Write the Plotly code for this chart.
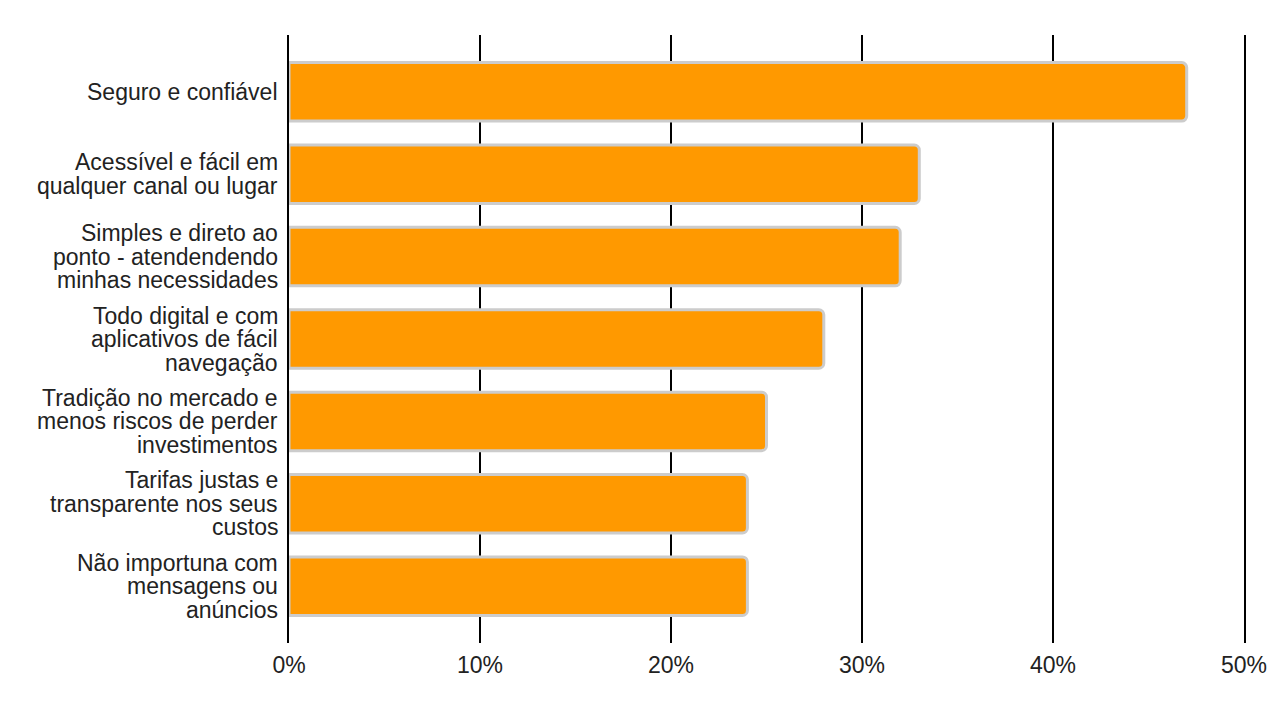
import plotly.graph_objects as go

categories = [
    "Seguro e confiável",
    "Acessível e fácil em<br>qualquer canal ou lugar",
    "Simples e direto ao<br>ponto - atendendendo<br>minhas necessidades",
    "Todo digital e com<br>aplicativos de fácil<br>navegação",
    "Tradição no mercado e<br>menos riscos de perder<br>investimentos",
    "Tarifas justas e<br>transparente nos seus<br>custos",
    "Não importuna com<br>mensagens ou<br>anúncios",
]
values = [0.47, 0.33, 0.32, 0.28, 0.25, 0.24, 0.24]
tick_vals = [0, 0.1, 0.2, 0.3, 0.4, 0.5]
tick_text = ["0%", "10%", "20%", "30%", "40%", "50%"]

FONT = "Liberation Sans, Arial, sans-serif"
FSIZE = 23
TXT = "#222222"
LINE_H = 23.5

fig = go.Figure(go.Bar(
    x=values,
    y=list(range(len(categories))),
    orientation="h",
    width=0.71,
    marker=dict(color="#FF9900", line=dict(color="#CCCCCC", width=3), cornerradius=5),
    hovertext=[c.replace("<br>", " ") for c in categories],
    hoverinfo="x+text",
))

# category labels, one annotation per line to reproduce the tight line spacing
annotations = []
for i, cat in enumerate(categories):
    lines = cat.split("<br>")
    n = len(lines)
    for j, ln in enumerate(lines):
        annotations.append(dict(
            x=0, xref="paper", y=i, yref="y",
            text=ln, showarrow=False,
            xanchor="right", yanchor="middle",
            xshift=-9, yshift=((n - 1) / 2 - j) * LINE_H,
            font=dict(family=FONT, size=FSIZE, color=TXT),
        ))

fig.update_layout(
    width=1280, height=713,
    margin=dict(l=281, r=44, t=27, b=78),
    plot_bgcolor="white", paper_bgcolor="white",
    font=dict(family=FONT, size=FSIZE, color=TXT),
    showlegend=False,
    annotations=annotations,
)
fig.update_xaxes(
    range=[0, 0.5], tickvals=tick_vals, ticktext=tick_text,
    showgrid=True, gridcolor="black", gridwidth=2,
    zeroline=False, showline=False, ticks="", ticklabelstandoff=6,
    tickfont=dict(family=FONT, size=FSIZE, color=TXT),
    automargin=False,
)
fig.update_yaxes(
    autorange=False, range=[6.69, -0.69],
    showgrid=False, zeroline=False,
    showline=True, linecolor="black", linewidth=2, mirror=True,
    ticks="", showticklabels=False,
    automargin=False,
)

fig.write_html("out.html")
